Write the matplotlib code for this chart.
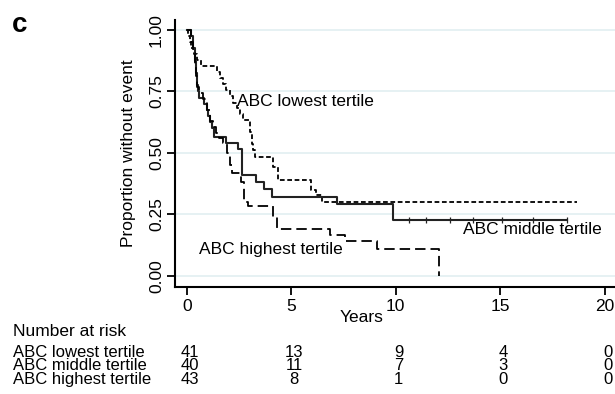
import numpy as np
import matplotlib
matplotlib.use("Agg")
import matplotlib.pyplot as plt
from matplotlib.transforms import blended_transform_factory

plt.rcParams['font.family'] = ['Liberation Sans', 'DejaVu Sans']
plt.rcParams['lines.scale_dashes'] = False

# Kaplan-Meier step data (time in years, proportion without event)
t_low = [0, 0.08, 0.15, 0.22, 0.35, 0.5, 0.7, 1.45, 1.6, 1.75, 1.9, 2.05, 2.2, 2.4,
         2.55, 2.7, 3.05, 3.1, 3.15, 3.25, 4.12, 4.36, 5.95, 6.2, 6.46, 18.66]
s_low = [1.0, 0.976, 0.951, 0.927, 0.902, 0.878, 0.855, 0.83, 0.805, 0.78, 0.756, 0.73,
         0.705, 0.683, 0.658, 0.634, 0.585, 0.537, 0.512, 0.485, 0.444, 0.39, 0.35,
         0.329, 0.302, 0.302]

t_mid = [0, 0.2, 0.3, 0.4, 0.45, 0.5, 0.55, 0.6, 0.85, 0.95, 1.0, 1.1, 1.2, 1.3,
         1.87, 2.44, 2.63, 3.32, 3.72, 4.07, 7.2, 9.89, 18.2]
s_mid = [1.0, 0.975, 0.925, 0.875, 0.825, 0.775, 0.75, 0.725, 0.70, 0.675, 0.65, 0.625,
         0.60, 0.566, 0.542, 0.515, 0.41, 0.383, 0.352, 0.322, 0.293, 0.225, 0.225]
cens_mid = [10.65, 11.45, 12.6, 13.7, 15.07, 16.58, 18.2]

t_high = [0, 0.2, 0.3, 0.4, 0.45, 0.5, 0.6, 0.8, 0.95, 1.1, 1.25, 1.4, 1.55, 1.75,
          1.95, 2.05, 2.15, 2.6, 2.75, 2.95, 4.12, 4.3, 6.84, 7.56, 9.09, 12.08]
s_high = [1.0, 0.953, 0.907, 0.86, 0.814, 0.767, 0.744, 0.72, 0.674, 0.63, 0.605, 0.58,
          0.56, 0.54, 0.50, 0.45, 0.42, 0.38, 0.30, 0.285, 0.24, 0.19, 0.167, 0.14,
          0.108, 0.0]

risk_times = [0, 5, 10, 15, 20]
risk_groups = ['ABC lowest tertile', 'ABC middle tertile', 'ABC highest tertile']
risk_counts = [[41, 13, 9, 4, 0],
               [40, 11, 7, 3, 0],
               [43, 8, 1, 0, 0]]

W, H = 615, 394
fig = plt.figure(figsize=(W / 100, H / 100), dpi=100)
ax = fig.add_axes([175 / W, 1 - 287.3 / H, (W - 175) / W, (287.3 - 20) / H])

ax.set_xlim(-0.56, 20.49)
ax.set_ylim(-0.047, 1.041)

for yv in [0, 0.25, 0.5, 0.75, 1.0]:
    ax.axhline(yv, color='#e6f1f3', lw=1.4, zorder=0)

fs = 12.5
lw = 1.3
ax.step(t_low, s_low, where='post', color='black', lw=lw, linestyle=(0, (3.4, 1.9)))
ax.step(t_mid, s_mid, where='post', color='#222222', lw=lw + 0.2)
ax.step(t_high, s_high, where='post', color='black', lw=lw, linestyle=(0, (7.5, 3.6)))
ax.plot(cens_mid, [0.225] * len(cens_mid), linestyle='none', marker='|',
        markersize=4, color='#222222', mew=0.9)

ax.text(2.43, 0.71, 'ABC lowest tertile', fontsize=fs, va='center', ha='left')
ax.text(0.6, 0.106, 'ABC highest tertile', fontsize=fs, va='center', ha='left')
ax.text(13.2, 0.187, 'ABC middle tertile', fontsize=fs, va='center', ha='left')

for side in ['top', 'right']:
    ax.spines[side].set_visible(False)
for side in ['left', 'bottom']:
    ax.spines[side].set_linewidth(1.5)

ax.set_xticks(risk_times)
ax.set_yticks([0, 0.25, 0.5, 0.75, 1.0])
ax.set_yticklabels(['0.00', '0.25', '0.50', '0.75', '1.00'])
ax.tick_params(axis='both', labelsize=fs, length=5.5, width=1.3, color='black')
ax.tick_params(axis='x', pad=3)
ax.tick_params(axis='y', pad=2.5)
for lbl in ax.get_yticklabels():
    lbl.set_rotation(90)
    lbl.set_va('center')

fig.text(128 / W, 1 - 153 / H, 'Proportion without event', rotation=90,
         fontsize=fs, ha='center', va='center')
fig.text(362 / W, 1 - 317 / H, 'Years', fontsize=fs, ha='center', va='center')
fig.text(12 / W, 1 - 25 / H, 'c', fontsize=20, fontweight='bold', ha='left', va='center')

# number-at-risk table below the axis
tfs = 12
tr = blended_transform_factory(ax.transData, fig.transFigure)
fig.text(13 / W, 1 - 331 / H, 'Number at risk', fontsize=fs, ha='left', va='center')
row_y = [352.5, 366, 379.5]
for name, counts, py in zip(risk_groups, risk_counts, row_y):
    fig.text(13 / W, 1 - py / H, name, fontsize=tfs, ha='left', va='center')
    for tx, n in zip(risk_times, counts):
        ax.text(tx + 0.15, 1 - py / H, str(n), transform=tr, fontsize=tfs,
                ha='center', va='center', clip_on=False)

fig.savefig('out.png', dpi=100)
